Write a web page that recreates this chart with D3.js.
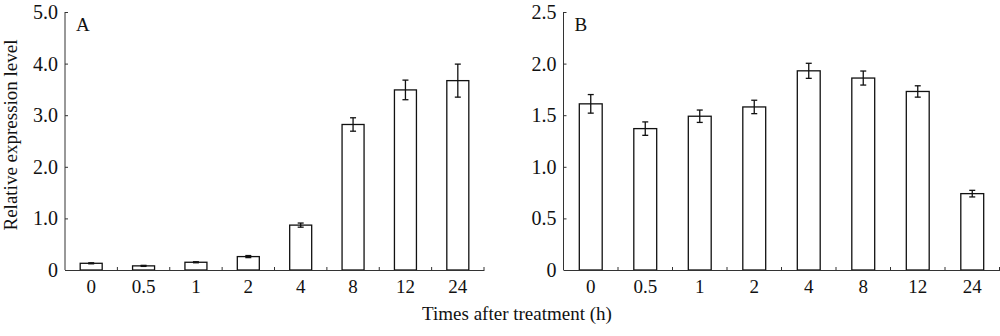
<!DOCTYPE html>
<html>
<head>
<meta charset="utf-8">
<script src="https://cdn.jsdelivr.net/npm/d3@7"></script>
<style>
  body { margin: 0; background: #fff; }
  text { font-family: "Liberation Serif", "Times New Roman", serif; fill: #111; }
</style>
</head>
<body>
<div id="chart"></div>
<script>
// Data
var times = ["0", "0.5", "1", "2", "4", "8", "12", "24"];
var levelsA = [0.13, 0.08, 0.15, 0.26, 0.87, 2.82, 3.49, 3.67];
var errorsA = [0.01, 0.01, 0.01, 0.02, 0.04, 0.13, 0.19, 0.32];
var levelsB = [1.61, 1.37, 1.49, 1.58, 1.93, 1.86, 1.73, 0.74];
var errorsB = [0.09, 0.065, 0.06, 0.065, 0.073, 0.068, 0.055, 0.032];
var ticksA = [0, 1, 2, 3, 4, 5];
var ticksB = [0, 0.5, 1, 1.5, 2, 2.5];

var svgWidth = 1000, svgHeight = 336;
var plotTop = 12, baseY = 270;

var svg = d3.select("#chart")
    .append("svg")
    .attr("width", svgWidth)
    .attr("height", svgHeight);

function drawPanel(left, width, values, errors, ticks, maxY, label) {
    var g = svg.append("g").attr("transform", `translate(${left}, 0)`);

    var x = d3.scaleBand().domain(times).range([0, width])
        .paddingInner(0.58).paddingOuter(0.29);
    var y = d3.scaleLinear().domain([0, maxY]).range([baseY, plotTop]);

    // bars
    g.selectAll("rect.bar")
        .data(values)
        .enter()
        .append("rect")
        .attr("class", "bar")
        .attr("x", (d, i) => x(times[i]))
        .attr("y", d => y(d))
        .attr("width", x.bandwidth())
        .attr("height", d => baseY - y(d))
        .attr("fill", "#fff")
        .attr("stroke", "#111")
        .attr("stroke-width", 1.3);

    // error bars
    var eb = g.selectAll("g.err")
        .data(values)
        .enter()
        .append("g")
        .attr("stroke", "#111")
        .attr("stroke-width", 1.3);
    var cx = (d, i) => x(times[i]) + x.bandwidth() / 2;
    eb.append("line")
        .attr("x1", cx).attr("x2", cx)
        .attr("y1", (d, i) => y(d + errors[i]))
        .attr("y2", (d, i) => y(d - errors[i]));
    eb.append("line")
        .attr("x1", (d, i) => cx(d, i) - 3).attr("x2", (d, i) => cx(d, i) + 3)
        .attr("y1", (d, i) => y(d + errors[i])).attr("y2", (d, i) => y(d + errors[i]));
    eb.append("line")
        .attr("x1", (d, i) => cx(d, i) - 3).attr("x2", (d, i) => cx(d, i) + 3)
        .attr("y1", (d, i) => y(d - errors[i])).attr("y2", (d, i) => y(d - errors[i]));

    // y axis
    var leftAxis = d3.axisRight(y).tickValues(ticks)
        .tickSize(3)
        .tickFormat(d => d === 0 ? "0" : d.toFixed(1));
    var ya = g.append("g").call(leftAxis);
    ya.select(".domain").attr("stroke", "#333").attr("d", `M0,${plotTop}V${baseY}`);
    ya.selectAll(".tick line").attr("stroke", "#333");
    ya.selectAll(".tick text")
        .attr("x", -7).attr("text-anchor", "end")
        .style("font-size", "20px").style("font-family", "Liberation Serif").attr("fill", "#111");

    // x axis
    var xa = g.append("g").attr("transform", `translate(0, ${baseY})`)
        .call(d3.axisBottom(x).tickSize(0).tickPadding(10));
    xa.select(".domain").attr("stroke", "#333");
    xa.selectAll(".tick text")
        .style("font-size", "19px").style("font-family", "Liberation Serif").attr("fill", "#111");
    xa.selectAll("line.sep")
        .data(times)
        .enter()
        .append("line")
        .attr("x1", (d, i) => x.step() * (i + 1))
        .attr("x2", (d, i) => x.step() * (i + 1))
        .attr("y1", 0).attr("y2", -3)
        .attr("stroke", "#333");

    g.append("text")
        .attr("x", 11).attr("y", 31)
        .style("font-size", "19px")
        .text(label);
}

drawPanel(65, 419, levelsA, errorsA, ticksA, 5, "A");
drawPanel(563.5, 436, levelsB, errorsB, ticksB, 2.5, "B");

// axis titles
svg.append("text")
    .attr("transform", "rotate(-90)")
    .attr("x", -135).attr("y", 17)
    .attr("text-anchor", "middle")
    .style("font-size", "19px")
    .text("Relative expression level");

svg.append("text")
    .attr("x", 517).attr("y", 320)
    .attr("text-anchor", "middle")
    .style("font-size", "19px")
    .text("Times after treatment (h)");
</script>
</body>
</html>
